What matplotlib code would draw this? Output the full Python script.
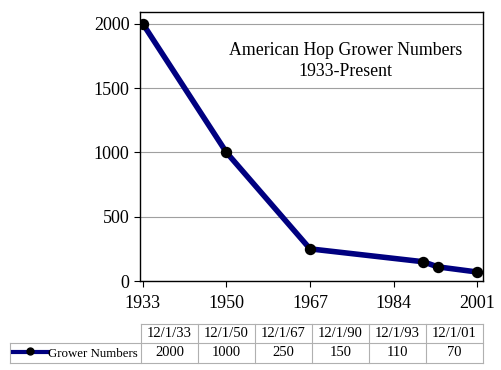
import matplotlib.pyplot as plt
from matplotlib.lines import Line2D

# data
years = [1933, 1950, 1967, 1990, 1993, 2001]
growers = [2000, 1000, 250, 150, 110, 70]
date_labels = ["12/1/33", "12/1/50", "12/1/67", "12/1/90", "12/1/93", "12/1/01"]
tick_years = [1933, 1950, 1967, 1984, 2001]
series_name = "Grower Numbers"

plt.rcParams["font.family"] = ["Liberation Serif", "DejaVu Serif"]

W, H = 502, 370
fig = plt.figure(figsize=(W / 100, H / 100), dpi=100)

ax = fig.add_axes([140 / W, 1 - 281 / H, 343 / W, 269 / H])
ax.plot(years, growers, color="#000080", lw=4.0, marker="o", ms=7.2,
        mfc="black", mec="black", solid_joinstyle="round", zorder=3)
ax.set_xlim(1932.4, 2002.2)
ax.set_ylim(0, 2093)
ax.set_xticks(tick_years)
ax.set_yticks([0, 500, 1000, 1500, 2000])
ax.tick_params(labelsize=13, direction="out", length=4, width=0.8, color="black")
ax.tick_params(axis="x", pad=6)
ax.yaxis.grid(True, color="#a0a0a0", lw=0.8)
ax.set_axisbelow(True)
for s in ax.spines.values():
    s.set_linewidth(1.0)
ax.text(0.60, 0.818, "American Hop Grower Numbers\n1933-Present", transform=ax.transAxes,
        ha="center", va="center", fontsize=12.8, linespacing=1.3)

# data table below the plot
tab = fig.add_axes([0, 0, 1, 1])
tab.set_xlim(0, W)
tab.set_ylim(H, 0)
tab.axis("off")
x0, x1 = 141, 483
y0, y1, y2 = 324, 343, 363
n = len(date_labels)
cw = (x1 - x0) / n
edge = "#b0b0b0"
tab.plot([x0, x1], [y0, y0], color=edge, lw=0.8)
tab.plot([10, x1], [y1, y1], color=edge, lw=0.8)
tab.plot([10, x1], [y2, y2], color=edge, lw=0.8)
tab.plot([10, 10], [y1, y2], color=edge, lw=0.8)
for i in range(n + 1):
    tab.plot([x0 + i * cw] * 2, [y0, y2], color=edge, lw=0.8)
for i, (d, v) in enumerate(zip(date_labels, growers)):
    cx = x0 + (i + 0.5) * cw
    tab.text(cx, (y0 + y1) / 2, d, ha="center", va="center", fontsize=10.5)
    tab.text(cx, (y1 + y2) / 2, str(v), ha="center", va="center", fontsize=10.5)
tab.add_line(Line2D([13, 48], [(y1 + y2) / 2 - 1] * 2, color="#000080", lw=3))
tab.plot([30], [(y1 + y2) / 2 - 2], "o", color="black", ms=5)
tab.text(48, (y1 + y2) / 2 + 1, series_name, ha="left", va="center", fontsize=9.3)

fig.savefig("out.png", dpi=100)
